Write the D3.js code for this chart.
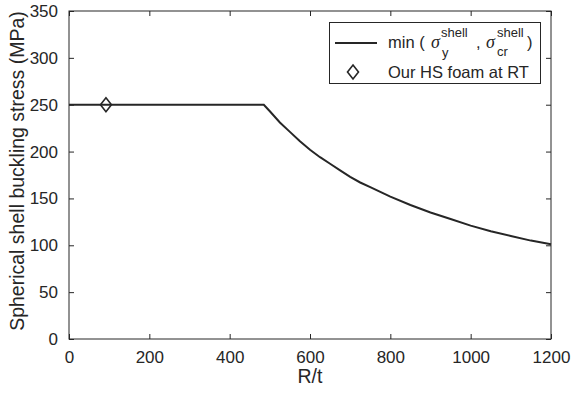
<!DOCTYPE html>
<html>
<head>
<meta charset="utf-8">
<script src="https://cdn.jsdelivr.net/npm/d3@7"></script>
<style>
  body { margin: 0; background: #fff; }
  text { font-family: "Liberation Sans", Arial, sans-serif; fill: #262626; }
</style>
</head>
<body>
<svg id="chart" width="571" height="397"></svg>
<script>
// values
const ratio = [0, 485, 500, 525, 550, 575, 600, 625, 650, 675, 700, 725, 750, 800, 850, 900, 950, 1000, 1050, 1100, 1150, 1200];
const stress = [250, 250, 243, 231, 221, 211, 202, 194, 187, 180, 173, 167, 162, 152, 143, 135, 128, 121, 115, 110, 105, 101];
const foamRatio = [92];
const foamStress = [250];
const xTicks = [0, 200, 400, 600, 800, 1000, 1200];
const yTicks = [0, 50, 100, 150, 200, 250, 300, 350];

const ink = "#262626";
const svg = d3.select("#chart");
const m = { left: 69, top: 11, right: 20, bottom: 58 };
const W = 571, H = 397;

const x = d3.scaleLinear().domain([0, 1200]).range([m.left, W - m.right]);
const y = d3.scaleLinear().domain([0, 350]).range([H - m.bottom, m.top]);

function styleAxis(g) {
  g.select(".domain").remove();
  g.selectAll(".tick line").attr("stroke", ink).attr("stroke-width", 1);
  g.selectAll(".tick text").style("font-size", "17px").attr("fill", ink);
}

// bottom + top
svg.append("g").attr("transform", `translate(0,${y(0)})`)
  .call(d3.axisBottom(x).tickValues(xTicks).tickSize(-5).tickPadding(12).tickFormat(d3.format("d")))
  .call(styleAxis);
svg.append("g").attr("transform", `translate(0,${y(350)})`)
  .call(d3.axisTop(x).tickValues(xTicks).tickSize(-5).tickFormat(""))
  .call(styleAxis);
// left + right
svg.append("g").attr("transform", `translate(${x(0)},0)`)
  .call(d3.axisLeft(y).tickValues(yTicks).tickSize(-5).tickPadding(11))
  .call(styleAxis);
svg.append("g").attr("transform", `translate(${x(1200)},0)`)
  .call(d3.axisRight(y).tickValues(yTicks).tickSize(-5).tickFormat(""))
  .call(styleAxis);

// box
svg.append("rect")
  .attr("x", x(0)).attr("y", y(350))
  .attr("width", x(1200) - x(0)).attr("height", y(0) - y(350))
  .attr("fill", "none").attr("stroke", ink).attr("stroke-width", 1);

// curve
const pts = ratio.map((r, i) => [r, stress[i]]);
svg.append("path")
  .datum(pts)
  .attr("fill", "none").attr("stroke", ink).attr("stroke-width", 2)
  .attr("d", d3.line().x(d => x(d[0])).y(d => y(d[1])));

// diamond marker
const diamond = (cx, cy) => `M${cx},${cy - 7} L${cx + 5.5},${cy} L${cx},${cy + 7} L${cx - 5.5},${cy} Z`;
svg.selectAll(".foam").data(foamRatio).enter().append("path")
  .attr("class", "foam")
  .attr("d", (d, i) => diamond(x(d), y(foamStress[i])))
  .attr("fill", "none").attr("stroke", ink).attr("stroke-width", 1.6);

// axis labels
svg.append("text").attr("x", x(600)).attr("y", 383)
  .attr("text-anchor", "middle").style("font-size", "19.5px").text("R/t");
svg.append("text")
  .attr("transform", `translate(24,171) rotate(-90)`)
  .attr("text-anchor", "middle").style("font-size", "19.5px")
  .text("Spherical shell buckling stress (MPa)");

// legend
const lg = svg.append("g");
lg.append("rect").attr("x", 329.5).attr("y", 22.5).attr("width", 211).attr("height", 61)
  .attr("fill", "#fff").attr("stroke", ink).attr("stroke-width", 1);
lg.append("line").attr("x1", 335).attr("x2", 377).attr("y1", 43).attr("y2", 43)
  .attr("stroke", ink).attr("stroke-width", 2);
const serif = "'Liberation Serif', 'Times New Roman', serif";
const piece = (px, py, str, size, fam, italic) => {
  const t = lg.append("text").attr("x", px).attr("y", py).style("font-size", size + "px").text(str);
  if (fam) t.style("font-family", fam);
  if (italic) t.style("font-style", "italic");
};
piece(388, 48, "min (", 16.5);
piece(431, 48, "σ", 18, serif, true);
piece(442, 57, "y", 13);
piece(441, 37, "shell", 13);
piece(476, 48, ",", 16.5);
piece(486, 48, "σ", 18, serif, true);
piece(497, 56, "cr", 13);
piece(497, 37, "shell", 13);
piece(527, 48, ")", 16.5);
lg.append("path").attr("d", diamond(353, 72))
  .attr("fill", "none").attr("stroke", ink).attr("stroke-width", 1.6);
lg.append("text").attr("x", 388).attr("y", 78).style("font-size", "16.5px").text("Our HS foam at RT");
</script>
</body>
</html>
